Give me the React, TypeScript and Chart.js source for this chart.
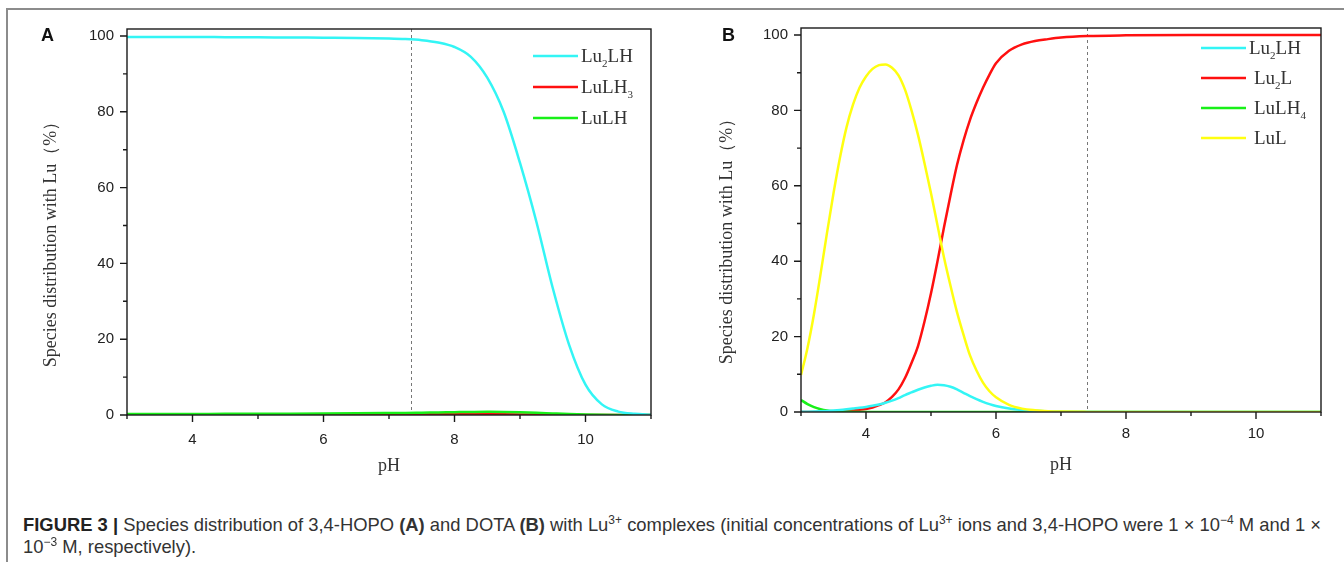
import React, { useEffect, useRef } from 'react';
import { Chart, registerables } from 'chart.js';
Chart.register(...registerables);

// ---------- Panel A data (3,4-HOPO) ----------
const A_PH = [3, 3.5, 4, 4.5, 5, 5.5, 6, 6.5, 7, 7.25, 7.5, 7.75, 8, 8.25, 8.5, 8.75, 9, 9.25, 9.5, 9.75, 10, 10.25, 10.5, 10.75, 11];
const A_LU2LH = [99.75, 99.75, 99.75, 99.7, 99.65, 99.6, 99.55, 99.5, 99.35, 99.2, 98.9, 98.3, 97.1, 94.5, 89, 80, 66.5, 51, 33.5, 18.5, 8, 2.8, 0.9, 0.3, 0.05];
const A_LULH3 = [0.02, 0.02, 0.02, 0.03, 0.04, 0.05, 0.05, 0.08, 0.12, 0.14, 0.16, 0.18, 0.2, 0.2, 0.2, 0.18, 0.15, 0.11, 0.08, 0.05, 0.02, 0.01, 0, 0, 0];
const A_LULH = [0.25, 0.25, 0.28, 0.3, 0.33, 0.36, 0.4, 0.45, 0.52, 0.56, 0.62, 0.68, 0.74, 0.8, 0.84, 0.82, 0.74, 0.6, 0.42, 0.25, 0.12, 0.05, 0.02, 0, 0];

// ---------- Panel B data (DOTA) ----------
const B_PH = [3, 3.1, 3.2, 3.3, 3.4, 3.5, 3.6, 3.7, 3.8, 3.9, 4.0, 4.1, 4.2, 4.3, 4.4, 4.5, 4.6, 4.7, 4.8, 4.9, 5.0, 5.1, 5.2, 5.3, 5.4, 5.5, 5.6, 5.7, 5.8, 5.9, 6.0, 6.2, 6.4, 6.6, 6.8, 7.0, 7.4, 8, 9, 10, 11];
const B_LU2LH = [0.05, 0.08, 0.12, 0.18, 0.27, 0.38, 0.52, 0.7, 0.9, 1.1, 1.35, 1.65, 2.0, 2.45, 3.0, 3.7, 4.5, 5.2, 5.9, 6.5, 6.95, 7.2, 7.1, 6.7, 6.0, 5.1, 4.2, 3.4, 2.7, 2.1, 1.6, 0.95, 0.55, 0.3, 0.15, 0.08, 0.02, 0, 0, 0, 0];
const B_LU2L = [0, 0, 0, 0.02, 0.05, 0.1, 0.15, 0.25, 0.4, 0.6, 0.8, 1.2, 1.8, 2.6, 4, 6, 9, 13, 17.5, 24, 31.5, 40, 49, 57.5, 65.5, 72, 77.5, 82, 86, 89.5, 92.5, 95.8, 97.5, 98.4, 98.9, 99.3, 99.7, 99.9, 100, 100, 100];
const B_LULH4 = [3.2, 2.1, 1.3, 0.75, 0.4, 0.2, 0.1, 0.05, 0.03, 0.01, 0, 0, 0, 0, 0, 0, 0, 0, 0, 0, 0, 0, 0, 0, 0, 0, 0, 0, 0, 0, 0, 0, 0, 0, 0, 0, 0, 0, 0, 0, 0];
const B_LUL = [9.8, 17, 26, 36.5, 47.5, 58, 67.5, 75.5, 81.5, 86, 89, 91, 92, 92.2, 91.3, 89.3, 85.5, 80, 73.5, 66, 58, 49.5, 41, 33.5, 26.5, 20.5, 15, 11, 7.8, 5.5, 3.9, 1.9, 0.9, 0.45, 0.2, 0.1, 0.03, 0, 0, 0, 0];

// ---------- Axes ----------
const X_MIN = 3;
const X_MAX = 11;
const Y_MIN = 0;
const Y_MAX = 101.85;
const X_MAJOR = [4, 6, 8, 10];
const X_MINOR = [3, 5, 7, 9, 11];
const Y_MAJOR = [0, 20, 40, 60, 80, 100];
const Y_MINOR = [10, 30, 50, 70, 90];
const REF_PH_A = 7.33;
const REF_PH_B = 7.4;
const X_TITLE = 'pH';
const Y_TITLE = 'Species distribution with Lu（%）';

const A_LABELS = ['Lu_2LH', 'LuLH_3', 'LuLH'];
const B_LABELS = ['Lu_2LH', 'Lu_2L', 'LuLH_4', 'LuL'];

const CYAN = '#33f5f5';
const RED = '#ff1010';
const GREEN = '#18f018';
const YELLOW = '#ffff10';

const SERIF = '"Liberation Serif", "Times New Roman", serif';
const SANS = '"Liberation Sans", Arial, sans-serif';

function parseLabel(s: string) {
  const parts: { t: string; sub: boolean }[] = [];
  let i = 0;
  let buf = '';
  while (i < s.length) {
    if (s[i] === '_') {
      if (buf) parts.push({ t: buf, sub: false });
      buf = '';
      parts.push({ t: s[i + 1], sub: true });
      i += 2;
    } else {
      buf += s[i];
      i++;
    }
  }
  if (buf) parts.push({ t: buf, sub: false });
  return parts;
}

const decorPlugin = {
  id: 'decor',
  beforeDatasetsDraw(chart: any, _a: any, o: any) {
    const { ctx, chartArea: a, scales } = chart;
    const px = scales.x.getPixelForValue(o.refPh);
    ctx.save();
    ctx.setLineDash([3, 3]);
    ctx.strokeStyle = '#777';
    ctx.lineWidth = 1;
    ctx.beginPath();
    ctx.moveTo(Math.round(px) + 0.5, a.top);
    ctx.lineTo(Math.round(px) + 0.5, a.bottom);
    ctx.stroke();
    ctx.restore();
  },
  afterDatasetsDraw(chart: any, _a: any, o: any) {
    const { ctx, chartArea: a, scales } = chart;
    const xs = scales.x;
    const ys = scales.y;
    ctx.save();
    ctx.strokeStyle = '#1a1a1a';
    ctx.lineWidth = 1.4;
    ctx.strokeRect(a.left, a.top, a.right - a.left, a.bottom - a.top);
    ctx.beginPath();
    X_MAJOR.forEach((v) => {
      const p = xs.getPixelForValue(v);
      ctx.moveTo(p, a.bottom);
      ctx.lineTo(p, a.bottom + 7);
    });
    X_MINOR.forEach((v) => {
      const p = xs.getPixelForValue(v);
      ctx.moveTo(p, a.bottom);
      ctx.lineTo(p, a.bottom + 4);
    });
    Y_MAJOR.forEach((v) => {
      const p = ys.getPixelForValue(v);
      ctx.moveTo(a.left, p);
      ctx.lineTo(a.left - 7, p);
    });
    Y_MINOR.forEach((v) => {
      const p = ys.getPixelForValue(v);
      ctx.moveTo(a.left, p);
      ctx.lineTo(a.left - 4, p);
    });
    ctx.stroke();

    // y-axis title
    ctx.save();
    ctx.translate(o.yTitleX, (a.top + a.bottom) / 2 + o.yTitleShift);
    ctx.rotate(-Math.PI / 2);
    ctx.font = `18px ${SERIF}`;
    ctx.fillStyle = '#333';
    ctx.textAlign = 'center';
    ctx.textBaseline = 'middle';
    ctx.fillText(Y_TITLE, 0, 0);
    ctx.restore();

    // legend
    const lg = o.legend;
    const ds = chart.data.datasets;
    lg.labels.forEach((lab: string, i: number) => {
      const y = a.top + lg.top + i * lg.gap;
      ctx.strokeStyle = ds[i].borderColor;
      ctx.lineWidth = 2.5;
      ctx.beginPath();
      ctx.moveTo(a.right - lg.lineStart, y);
      ctx.lineTo(a.right - lg.lineEnd, y);
      ctx.stroke();
      let x = a.right - lg.textStart + (i > 0 ? lg.indent : 0);
      ctx.fillStyle = '#333';
      ctx.textBaseline = 'alphabetic';
      ctx.textAlign = 'left';
      parseLabel(lab).forEach((p) => {
        ctx.font = p.sub ? `11px ${SERIF}` : `19px ${SERIF}`;
        ctx.fillText(p.t, x, p.sub ? y + 11 : y + 6);
        x += ctx.measureText(p.t).width;
      });
    });
    ctx.restore();
  },
};

function makeConfig(p: any) {
  return {
    type: 'line',
    data: {
      datasets: p.series.map((s: any) => ({
        label: s.label,
        data: p.ph.map((x: number, i: number) => ({ x, y: s.values[i] })),
        borderColor: s.color,
        backgroundColor: s.color,
        borderWidth: 2.5,
        pointRadius: 0,
        cubicInterpolationMode: 'monotone',
        fill: false,
        order: s.order,
      })),
    },
    options: {
      responsive: false,
      animation: false,
      devicePixelRatio: 1,
      layout: { padding: { left: 0, top: p.top, right: p.right, bottom: 0 } },
      plugins: {
        legend: { display: false },
        tooltip: { enabled: false },
        decor: { refPh: p.refPh, legend: p.legend, yTitleX: p.yTitleX, yTitleShift: p.yTitleShift },
      },
      scales: {
        x: {
          type: 'linear',
          min: X_MIN,
          max: X_MAX,
          afterBuildTicks: (s: any) => {
            s.ticks = X_MAJOR.map((v) => ({ value: v }));
          },
          afterFit: (s: any) => {
            s.height = p.xAxisH;
          },
          grid: { display: false, drawTicks: true, tickLength: 7 },
          border: { display: false },
          ticks: { font: { family: SANS, size: 15 }, color: '#222', padding: p.xTickPad, maxRotation: 0, autoSkip: false },
          title: { display: true, text: X_TITLE, font: { family: SERIF, size: 18 }, color: '#333', padding: { top: 0, bottom: p.xTitlePad } },
        },
        y: {
          type: 'linear',
          min: Y_MIN,
          max: Y_MAX,
          afterBuildTicks: (s: any) => {
            s.ticks = Y_MAJOR.map((v) => ({ value: v }));
          },
          afterFit: (s: any) => {
            s.width = p.yAxisW;
          },
          grid: { display: false, drawTicks: true, tickLength: 7 },
          border: { display: false },
          ticks: { font: { family: SANS, size: 15 }, color: '#222', padding: 6, autoSkip: false },
          title: { display: false },
        },
      },
    },
    plugins: [decorPlugin],
  } as any;
}

export default function App() {
  const refA = useRef<HTMLCanvasElement>(null);
  const refB = useRef<HTMLCanvasElement>(null);

  useEffect(() => {
    const a = new Chart(
      refA.current as HTMLCanvasElement,
      makeConfig({
        ph: A_PH,
        series: [
          { label: 'Lu2LH', values: A_LU2LH, color: CYAN, order: 0 },
          { label: 'LuLH3', values: A_LULH3, color: RED, order: 2 },
          { label: 'LuLH', values: A_LULH, color: GREEN, order: 1 },
        ],
        top: 29,
        right: 21,
        xAxisH: 85,
        yAxisW: 127,
        xTickPad: 9,
        xTitlePad: 23,
        yTitleX: 51,
        yTitleShift: 18,
        refPh: REF_PH_A,
        legend: { labels: A_LABELS, top: 27, gap: 31, lineStart: 118, lineEnd: 73, textStart: 70, indent: 0 },
      })
    );
    const b = new Chart(
      refB.current as HTMLCanvasElement,
      makeConfig({
        ph: B_PH,
        series: [
          { label: 'Lu2LH', values: B_LU2LH, color: CYAN, order: 1 },
          { label: 'Lu2L', values: B_LU2L, color: RED, order: 3 },
          { label: 'LuLH4', values: B_LULH4, color: GREEN, order: 2 },
          { label: 'LuL', values: B_LUL, color: YELLOW, order: 0 },
        ],
        top: 28,
        right: 23,
        xAxisH: 88,
        yAxisW: 129,
        xTickPad: 6,
        xTitlePad: 24,
        yTitleX: 55,
        yTitleShift: 17,
        refPh: REF_PH_B,
        legend: { labels: B_LABELS, top: 20, gap: 30, lineStart: 120, lineEnd: 75, textStart: 72, indent: 5 },
      })
    );
    return () => {
      a.destroy();
      b.destroy();
    };
  }, []);

  const sup = { fontSize: 12, position: 'relative' as const, top: -7 };

  return (
    <div style={{ position: 'absolute', left: 0, top: 0, width: 1344, height: 562, background: '#fff', overflow: 'hidden' }}>
      <div style={{ position: 'absolute', left: 6, top: 8, width: 1400, height: 600, borderTop: '2px solid #8c8c8c', borderLeft: '2px solid #8c8c8c' }} />
      <canvas ref={refA} width={672} height={500} style={{ position: 'absolute', left: 0, top: 0, width: 672, height: 500 }} />
      <canvas ref={refB} width={672} height={500} style={{ position: 'absolute', left: 672, top: 0, width: 672, height: 500 }} />
      <div style={{ position: 'absolute', left: 41, top: 24, fontFamily: SANS, fontWeight: 'bold', fontSize: 18, lineHeight: '22px', color: '#111' }}>A</div>
      <div style={{ position: 'absolute', left: 722, top: 24, fontFamily: SANS, fontWeight: 'bold', fontSize: 18, lineHeight: '22px', color: '#111' }}>B</div>
      <div style={{ position: 'absolute', left: 23, top: 515, fontFamily: SANS, fontSize: 18.4, lineHeight: '20px', color: '#333', whiteSpace: 'nowrap' }}>
        <b style={{ color: '#222' }}>FIGURE 3 |</b> Species distribution of 3,4-HOPO <b>(A)</b> and DOTA <b>(B)</b> with Lu<span style={sup}>3+</span> complexes (initial concentrations of Lu<span style={sup}>3+</span> ions and 3,4-HOPO were 1 × 10<span style={sup}>−4</span> M and 1 ×
        <br />
        10<span style={sup}>−3</span> M, respectively).
      </div>
    </div>
  );
}
